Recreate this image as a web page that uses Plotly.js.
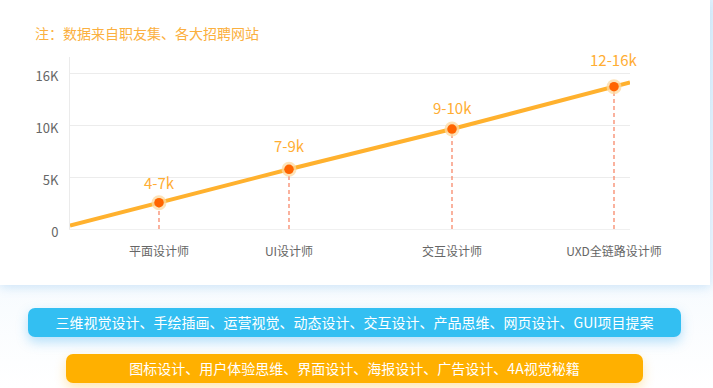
<!DOCTYPE html>
<html>
<head>
<meta charset="utf-8">
<script src="https://cdn.plot.ly/plotly-3.0.1.min.js"></script>
<style>
  html, body { margin:0; padding:0; }
  body { width:713px; height:388px; overflow:hidden; position:relative;
         background: linear-gradient(180deg, #e4f3fc 0%, #f3f9fe 60%, #ffffff 100%);
         font-family: "Noto Sans CJK SC", "Noto Sans", sans-serif; }
  #card { position:absolute; left:0; top:0; width:710px; height:285px; background:#fff;
          box-shadow: 0 2px 10px rgba(90,170,230,0.28); }
  #chart { position:absolute; left:0; top:0; width:713px; height:285px; }
  .pill { position:absolute; height:29px; line-height:29px; border-radius:7px; color:#fff;
          font-size:14px; text-align:center; white-space:nowrap; }
  #pillA { left:28px; top:308px; width:653px; background:#33bff2;
           box-shadow: 0 5px 12px rgba(51,170,240,0.35); }
  #pillB { left:66px; top:354px; width:577px; background:#ffb000;
           box-shadow: 0 5px 12px rgba(255,176,0,0.3); }
</style>
</head>
<body>
<div id="card"></div>
<div id="chart"></div>
<div class="pill" id="pillA"></div>
<div class="pill" id="pillB"></div>
<script>
// ---- data ----
const noteText = '注：数据来自职友集、各大招聘网站';
const categories = ['平面设计师', 'UI设计师', '交互设计师', 'UXD全链路设计师'];
const catX = [8.9, 21.9, 38.2, 54.4];           // x position of each job on the trend axis
const salaryMid = [2540, 5770, 9660, 13750];     // plotted value at each point
const salaryLabels = ['4-7k', '7-9k', '9-10k', '12-16k'];
const trendStartX = 0, trendStartY = 340;        // trend line start
const trendEndX = 56.0, trendEndY = 14160;       // trend line end
const yTickVals = [0, 5000, 10000, 15000];
const yTickText = ['0', '5K', '10K', '16K'];
const skillsA = ['三维视觉设计', '手绘插画', '运营视觉', '动态设计', '交互设计', '产品思维', '网页设计', 'GUI项目提案'];
const skillsB = ['图标设计', '用户体验思维', '界面设计', '海报设计', '广告设计', '4A视觉秘籍'];

document.getElementById('pillA').textContent = skillsA.join('、');
document.getElementById('pillB').textContent = skillsB.join('、');

const labelLift = [20, 24, 22, 27];

const lineX = [trendStartX].concat(catX, [trendEndX]);
const lineY = [trendStartY].concat(salaryMid, [trendEndY]);

const dropX = [], dropY = [];
catX.forEach((x, i) => { dropX.push(x, x, null); dropY.push(0, salaryMid[i], null); });

const traces = [
  { x: dropX, y: dropY, mode: 'lines', hoverinfo: 'skip',
    line: { color: '#f7896a', width: 1.3, dash: '4px,3px' } },
  { x: lineX, y: lineY, mode: 'lines', hoverinfo: 'skip',
    line: { color: '#ffb12e', width: 4 } },
  { x: catX, y: salaryMid, mode: 'markers', hoverinfo: 'skip', cliponaxis: false,
    marker: { size: 15, color: 'rgba(252,218,160,0.75)', line: { width: 0 } } },
  { x: catX, y: salaryMid, mode: 'markers', hoverinfo: 'skip', cliponaxis: false,
    marker: { size: 9.5, color: '#ff6400', line: { width: 0 } } }
];

const annotations = catX.map((x, i) => ({
  x: x, y: salaryMid[i], xref: 'x', yref: 'y', text: salaryLabels[i],
  showarrow: false, yshift: labelLift[i], yanchor: 'middle',
  font: { size: 15, color: '#ffad33', family: '"Noto Sans CJK SC", "Noto Sans", sans-serif' }
}));

const layout = {
  width: 713, height: 285,
  margin: { l: 70, r: 83, t: 57, b: 56 },
  paper_bgcolor: 'rgba(0,0,0,0)', plot_bgcolor: 'rgba(0,0,0,0)',
  showlegend: false,
  font: { family: '"Noto Sans CJK SC", "Noto Sans", sans-serif', color: '#666' },
  title: { text: noteText, xref: 'container', yref: 'container',
           x: 35 / 713, xanchor: 'left', y: 1 - 34 / 285, yanchor: 'middle',
           font: { size: 14, color: '#fbb040' } },
  xaxis: { range: [0, 56.0], tickvals: catX, ticktext: categories, showgrid: false,
           zeroline: false, showline: true, linecolor: '#f0f0f0', linewidth: 1,
           ticks: '', ticklabelstandoff: 12, tickfont: { size: 12, color: '#666' }, fixedrange: true },
  yaxis: { range: [0, 16620], tickvals: yTickVals, ticktext: yTickText, showgrid: true,
           gridcolor: '#ececec', gridwidth: 1, zeroline: false, showline: true,
           linecolor: '#ebebeb', linewidth: 1, ticks: '', ticklabelstandoff: 8,
           ticklabelshift: 3, tickfont: { size: 13, color: '#666' }, fixedrange: true },
  annotations: annotations
};

Plotly.newPlot('chart', traces, layout, { displayModeBar: false, staticPlot: true });
</script>
</body>
</html>
